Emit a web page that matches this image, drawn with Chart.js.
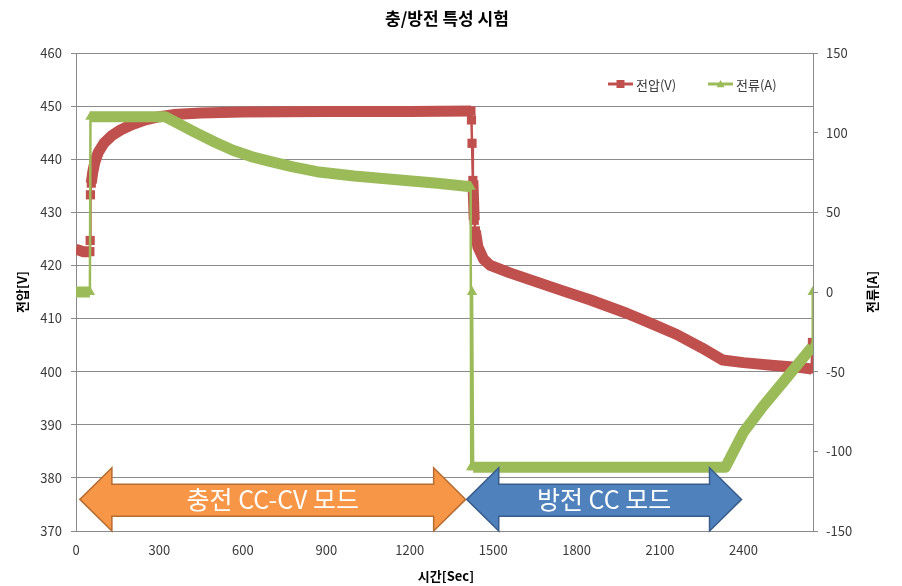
<!DOCTYPE html>
<html>
<head>
<meta charset="utf-8">
<script src="https://cdn.jsdelivr.net/npm/chart.js@4.4.0/dist/chart.umd.min.js"></script>
<style>
	html, body { margin:0; padding:0; background:#fff; }
	#wrap { width:902px; height:586px; }
</style>
</head>
<body>
<div id="wrap"><canvas id="chart" width="902" height="586"></canvas></div>
<script>
var chartTitle = '충/방전 특성 시험';
var xTitle = '시간[Sec]';
var yTitle = '전압[V]';
var y1Title = '전류[A]';
var seriesNames = ['전압(V)', '전류(A)'];

// voltage samples (sec, V)
var voltTime = [0, 10, 25, 50, 51, 52, 55, 60, 68, 80, 100, 130, 160, 200, 250, 300, 350, 450, 600, 900, 1200, 1420,
	1422, 1424, 1427, 1432, 1436, 1445, 1465, 1490, 1560, 1650, 1740, 1850, 1980, 2080, 2160, 2250, 2325, 2400, 2500, 2600, 2645, 2648];
var voltValues = [423.0, 422.9, 422.6, 422.6, 424.7, 433.3, 435.5, 437.5, 439.5, 441.3, 443.0, 444.5, 445.5, 446.5, 447.4, 448.0, 448.4, 448.7, 448.9, 449.0, 449.0, 449.1,
	447.4, 443.0, 436.0, 428.5, 426.5, 423.5, 421.2, 420.0, 418.6, 417.0, 415.4, 413.5, 411.0, 408.8, 407.0, 404.5, 402.2, 401.7, 401.2, 400.8, 400.5, 405.5];

// current samples (sec, A)
var currTime = [0, 25, 50, 52, 100, 200, 320, 370, 430, 500, 564, 630, 697, 780, 866, 1000, 1165, 1300, 1419,
	1421, 1424, 1428, 1500, 1800, 2100, 2335, 2400, 2469, 2550, 2647, 2649];
var currValues = [0, 0, 0, 110, 110, 110, 110, 105.5, 100, 94, 89, 85, 82, 78.5, 75.5, 72.8, 70.3, 68.2, 66,
	-110, 0, -110, -110, -110, -110, -110, -88, -72, -55, -34.5, 0];

var xTicks = [0, 300, 600, 900, 1200, 1500, 1800, 2100, 2400];
var modeNames = ['충전 CC-CV 모드', '방전 CC 모드'];
var modeStart = [14, 1405];
var modeEnd = [1401, 2393];

var RED = '#C0504D', GREEN = '#9BBB59', GRID = '#8a8a8a', TXT = '#3a3a3a';
var FONT = '"Noto Sans CJK KR", "Noto Sans", sans-serif';

function toPoints(xs, ys) {
	return xs.map(function(x, i){ return { x:x, y:ys[i] }; });
}

// steep jumps are drawn thin, the dense parts as a thick band
function segWidth(ctx) {
	return Math.abs(ctx.p1.parsed.x - ctx.p0.parsed.x) <= 4 ? 2.5 : 11;
}

// markers only show where the line jumps
function markerSize(xs, r) {
	return function(ctx) {
		var i = ctx.dataIndex;
		var near = (i > 0 && xs[i] - xs[i - 1] <= 4) || (i < xs.length - 1 && xs[i + 1] - xs[i] <= 4);
		return near ? r : 0;
	};
}

function drawMarker(ctx, style, x, y, r, color) {
	ctx.fillStyle = color;
	ctx.beginPath();
	if (style === 'rect') {
		ctx.rect(x - r, y - r, 2 * r, 2 * r);
	} else {
		ctx.moveTo(x, y - r);
		ctx.lineTo(x + r, y + r * 0.8);
		ctx.lineTo(x - r, y + r * 0.8);
		ctx.closePath();
	}
	ctx.fill();
}

function drawArrow(ctx, x0, x1, yTop, yBodyTop, yBodyBot, yBot, head, fill, stroke) {
	var yc = (yTop + yBot) / 2;
	ctx.beginPath();
	ctx.moveTo(x0, yc);
	ctx.lineTo(x0 + head, yTop);
	ctx.lineTo(x0 + head, yBodyTop);
	ctx.lineTo(x1 - head, yBodyTop);
	ctx.lineTo(x1 - head, yTop);
	ctx.lineTo(x1, yc);
	ctx.lineTo(x1 - head, yBot);
	ctx.lineTo(x1 - head, yBodyBot);
	ctx.lineTo(x0 + head, yBodyBot);
	ctx.lineTo(x0 + head, yBot);
	ctx.closePath();
	ctx.fillStyle = fill;
	ctx.fill();
	ctx.lineWidth = 1.5;
	ctx.strokeStyle = stroke;
	ctx.stroke();
}

var decor = {
	id: 'decor',
	afterDatasetsDraw: function(chart) {
		var ctx = chart.ctx, a = chart.chartArea;
		var xs = chart.scales.x, ys = chart.scales.y;
		ctx.save();

		// mode arrows
		var fills = ['#F79646', '#4F81BD'], strokes = ['#B66D31', '#385D8A'];
		for (var i = 0; i < modeNames.length; i++) {
			var x0 = xs.getPixelForValue(modeStart[i]), x1 = xs.getPixelForValue(modeEnd[i]);
			drawArrow(ctx, x0, x1, ys.getPixelForValue(381.9), ys.getPixelForValue(378.8),
				ys.getPixelForValue(372.8), ys.getPixelForValue(370), 32, fills[i], strokes[i]);
			ctx.fillStyle = '#fff';
			ctx.font = '25px ' + FONT;
			ctx.textAlign = 'center';
			ctx.textBaseline = 'middle';
			ctx.fillText(modeNames[i], (x0 + x1) / 2, ys.getPixelForValue(375.9));
		}

		// legend inside plot
		var colors = [RED, GREEN], styles = ['rect', 'triangle'];
		var lx = [a.right - 205, a.right - 105], ly = 84;
		ctx.font = '13px ' + FONT;
		ctx.textAlign = 'left';
		ctx.textBaseline = 'middle';
		for (var k = 0; k < 2; k++) {
			ctx.strokeStyle = colors[k];
			ctx.lineWidth = 3;
			ctx.beginPath();
			ctx.moveTo(lx[k], ly);
			ctx.lineTo(lx[k] + 25, ly);
			ctx.stroke();
			drawMarker(ctx, styles[k], lx[k] + 12.5, ly, 4, colors[k]);
			ctx.fillStyle = TXT;
			ctx.fillText(seriesNames[k], lx[k] + 28, ly + 1);
		}
		ctx.restore();
	},
	afterDraw: function(chart) {
		var ctx = chart.ctx, a = chart.chartArea;
		var mid = (a.top + a.bottom) / 2;
		ctx.save();
		ctx.fillStyle = '#000';
		ctx.textAlign = 'center';
		ctx.textBaseline = 'middle';
		ctx.font = 'bold 17px ' + FONT;
		ctx.fillText(chartTitle, 447, 19);
		ctx.font = 'bold 13px ' + FONT;
		ctx.fillText(xTitle, 446, 576);

		ctx.translate(22, mid);
		ctx.rotate(-Math.PI / 2);
		ctx.fillText(yTitle, 0, 0);
		ctx.restore();

		ctx.save();
		ctx.fillStyle = '#000';
		ctx.textAlign = 'center';
		ctx.textBaseline = 'middle';
		ctx.font = 'bold 13px ' + FONT;
		ctx.translate(872, mid);
		ctx.rotate(-Math.PI / 2);
		ctx.fillText(y1Title, 0, 0);
		ctx.restore();
	}
};

new Chart(document.getElementById('chart').getContext('2d'), {
	type: 'line',
	data: {
		datasets: [{
			label: seriesNames[0],
			data: toPoints(voltTime, voltValues),
			yAxisID: 'y',
			order: 2,
			borderColor: RED,
			backgroundColor: RED,
			borderWidth: 11,
			borderJoinStyle: 'round',
			borderCapStyle: 'butt',
			segment: { borderWidth: segWidth },
			pointStyle: 'rect',
			pointRadius: markerSize(voltTime, 6.5),
			pointBorderWidth: 0,
			tension: 0,
			fill: false
		}, {
			label: seriesNames[1],
			data: toPoints(currTime, currValues),
			yAxisID: 'y1',
			order: 1,
			borderColor: GREEN,
			backgroundColor: GREEN,
			borderWidth: 11,
			borderJoinStyle: 'round',
			borderCapStyle: 'butt',
			segment: { borderWidth: segWidth },
			pointStyle: 'triangle',
			pointRadius: markerSize(currTime, 6),
			pointBorderWidth: 0,
			tension: 0,
			fill: false
		}]
	},
	options: {
		responsive: false,
		animation: false,
		devicePixelRatio: 1,
		layout: { padding: { top: 53, left: 0, right: 0, bottom: 0 } },
		plugins: { legend: { display: false }, title: { display: false }, tooltip: { enabled: false } },
		scales: {
			x: {
				type: 'linear',
				min: 0,
				max: 2650,
				grid: { display: false },
				border: { color: GRID },
				ticks: {
					stepSize: 300, maxRotation: 0, autoSkip: false, padding: 3, color: TXT,
					font: { family: FONT, size: 13 },
					callback: function(v){ return String(v); }
				},
				afterBuildTicks: function(s){ s.ticks = xTicks.map(function(v){ return { value: v }; }); },
				afterFit: function(s){ s.height = 55; }
			},
			y: {
				position: 'left',
				min: 370,
				max: 460,
				grid: { color: GRID, tickLength: 5 },
				border: { color: GRID },
				ticks: { stepSize: 10, padding: 9, color: TXT, font: { family: FONT, size: 13 } },
				afterFit: function(s){ s.width = 76; }
			},
			y1: {
				position: 'right',
				min: -150,
				max: 150,
				grid: { drawOnChartArea: false, color: GRID, tickLength: 5 },
				border: { color: GRID },
				ticks: { stepSize: 50, padding: 8, color: TXT, font: { family: FONT, size: 13 } },
				afterFit: function(s){ s.width = 89; }
			}
		}
	},
	plugins: [decor]
});
</script>
</body>
</html>
